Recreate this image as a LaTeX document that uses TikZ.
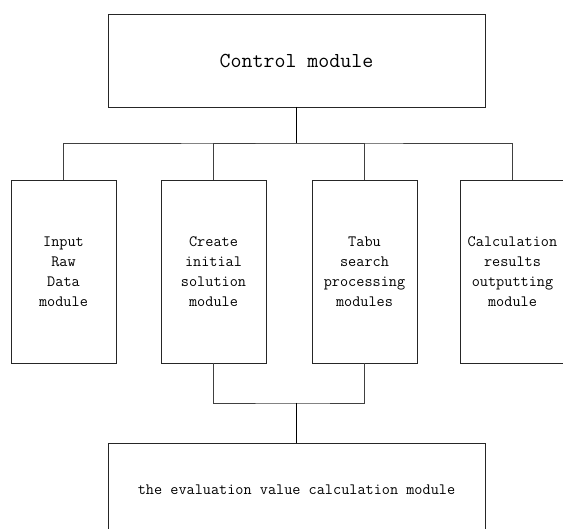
\documentclass[tikz,border=0pt]{standalone}
\usepackage{tikz}
\usetikzlibrary{positioning, calc}

\begin{document}
\begin{tikzpicture}[
    x=1pt, y=-1pt,
    box/.style={draw=black!85, line width=0.8pt, inner sep=0pt, outer sep=0pt,
                align=center, font=\ttfamily\fontsize{15.8}{20}\selectfont},
    modbox/.style={box, minimum width=105pt, minimum height=183pt},
    widebox/.style={box, minimum width=377pt, minimum height=93pt},
    link/.style={draw=black!75, line width=0.8pt},
    trunk/.style={draw=black, line width=1.6pt},
]
\useasboundingbox (0,0) rectangle (563,529);

\node[widebox, font=\ttfamily\fontsize{21.3}{24}\selectfont] (ctrl) at (296.5,60.5) {Control module};

\node[modbox] (input)  at (63.5,271.5)  {Input\\Raw\\Data\\module};
\node[modbox] (init)   at (213.5,271.5) {Create\\initial\\solution\\module};
\node[modbox] (tabu)   at (364.5,271.5) {Tabu\\search\\processing\\modules};
\node[modbox] (output) at (512.5,271.5) {Calculation\\results\\outputting\\module};

\node[widebox] (eval) at (296.5,489.5) {the evaluation value calculation module};

% upper bus: control module to the four modules
\coordinate (bus) at (296.5,143);
\draw[link] (input.north) |- (bus) -| (output.north);
\draw[link] (init.north) |- (bus) -| (tabu.north);
\draw[trunk] (ctrl.south) -- (bus);

% lower bus: initial solution and tabu search to evaluation
\coordinate (join) at (296.5,403);
\draw[link] (init.south) |- (join) -| (tabu.south);
\draw[trunk] (join) -- (eval.north);

\end{tikzpicture}
\end{document}
